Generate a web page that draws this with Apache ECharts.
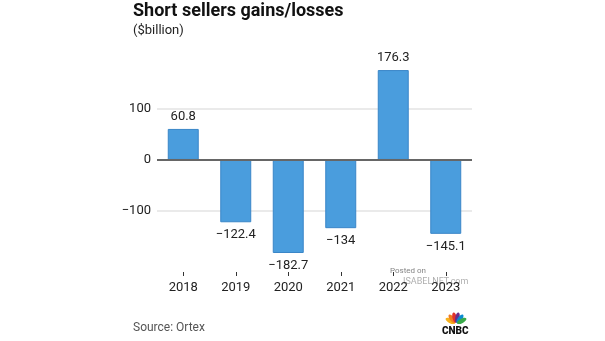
<!DOCTYPE html>
<html>
<head>
<meta charset="utf-8">
<script src="https://cdn.jsdelivr.net/npm/echarts@6/dist/echarts.min.js"></script>
<style>
  html, body { margin: 0; padding: 0; background: #fff; }
  #chart { width: 605px; height: 341px; }
</style>
</head>
<body>
<div id="chart"></div>
<script>
// Short sellers gains/losses by year, $billion
const years = ['2018', '2019', '2020', '2021', '2022', '2023'];
const gains = [60.8, -122.4, -182.7, -134, 176.3, -145.1];
const yTicks = [100, 0, -100];

const fmt = v => (v < 0 ? '\u2212' + String(Math.abs(v)) : String(v));

const chart = echarts.init(document.getElementById('chart'));

// CNBC peacock petals, drawn as small rotated ellipses fanning out
const petalColors = ['#f7b21c', '#ef7d22', '#e0322d', '#6a2e8c', '#0a8bd0', '#3aaa4a'];
const petals = petalColors.map((c, i) => {
  const ang = (-62 + i * 24.8) * Math.PI / 180;
  return {
    type: 'ellipse',
    x: 456 + Math.sin(ang) * 6.5,
    y: 324 - Math.cos(ang) * 6.5,
    rotation: -ang,
    shape: { cx: 0, cy: 0, rx: 2.2, ry: 5.2 },
    style: { fill: c }
  };
});

chart.setOption({
  animation: false,
  grid: { left: 157, width: 315, top: 58, height: 214 },
  xAxis: {
    type: 'category',
    data: years,
    position: 'bottom',
    axisLine: { show: false, onZero: false },
    axisTick: { show: true, alignWithLabel: true, length: 4, lineStyle: { color: '#333', width: 1 } },
    axisLabel: { color: '#222', fontSize: 13, fontFamily: 'Roboto', margin: 9 }
  },
  yAxis: {
    type: 'value',
    min: -220,
    max: 200,
    interval: 20,
    splitLine: { show: false },
    axisLine: { show: false },
    axisTick: { show: false },
    axisLabel: {
      color: '#222', fontSize: 13, fontFamily: 'Roboto', margin: 6,
      formatter: v => (yTicks.indexOf(v) >= 0 ? fmt(v) : '')
    }
  },
  series: [{
    type: 'bar',
    data: gains.map(v => ({
      value: v,
      label: { position: v < 0 ? 'bottom' : 'top' }
    })),
    barWidth: '59%',
    itemStyle: { color: '#4a9ddd', borderColor: '#3a86c8', borderWidth: 1 },
    label: {
      show: true,
      color: '#222',
      fontSize: 13,
      fontFamily: 'Roboto',
      distance: 6,
      formatter: p => fmt(p.value)
    },
    markLine: {
      silent: true,
      symbol: 'none',
      label: { show: false },
      z: 1,
      data: [
        { yAxis: 100, lineStyle: { color: '#e3e3e3', width: 1.5, type: 'solid' } },
        { yAxis: -100, lineStyle: { color: '#e3e3e3', width: 1.5, type: 'solid' } }
      ]
    }
  }, {
    // zero baseline drawn over the bars
    type: 'line',
    data: [],
    z: 5,
    markLine: {
      silent: true,
      symbol: 'none',
      label: { show: false },
      data: [{ yAxis: 0, lineStyle: { color: '#666', width: 2, type: 'solid' } }]
    }
  }],
  graphic: [
    {
      type: 'text', left: 133, top: 2,
      style: { text: 'Short sellers gains/losses', fontSize: 18, fontWeight: 'bold', fontFamily: 'Roboto', fill: '#111' }
    },
    {
      type: 'text', left: 133, top: 24,
      style: { text: '($billion)', fontSize: 13, fontFamily: 'Roboto', fill: '#222' }
    },
    {
      type: 'text', left: 133, top: 322,
      style: { text: 'Source: Ortex', fontSize: 12, fontFamily: 'Roboto', fill: '#555' }
    },
    {
      type: 'text', left: 390, top: 267,
      style: { text: 'Posted on', fontSize: 8, fontFamily: 'Roboto', fill: 'rgba(90,90,90,0.75)' }
    },
    {
      type: 'text', left: 403, top: 277,
      style: { text: 'ISABELNET.com', fontSize: 9, fontFamily: 'Roboto', fill: 'rgba(120,120,120,0.6)' }
    },
    ...petals,
    {
      type: 'text', left: 442, top: 326,
      style: { text: 'CNBC', fontSize: 10, fontWeight: 900, fontFamily: 'Roboto', fill: '#111' }
    }
  ]
});
</script>
</body>
</html>
